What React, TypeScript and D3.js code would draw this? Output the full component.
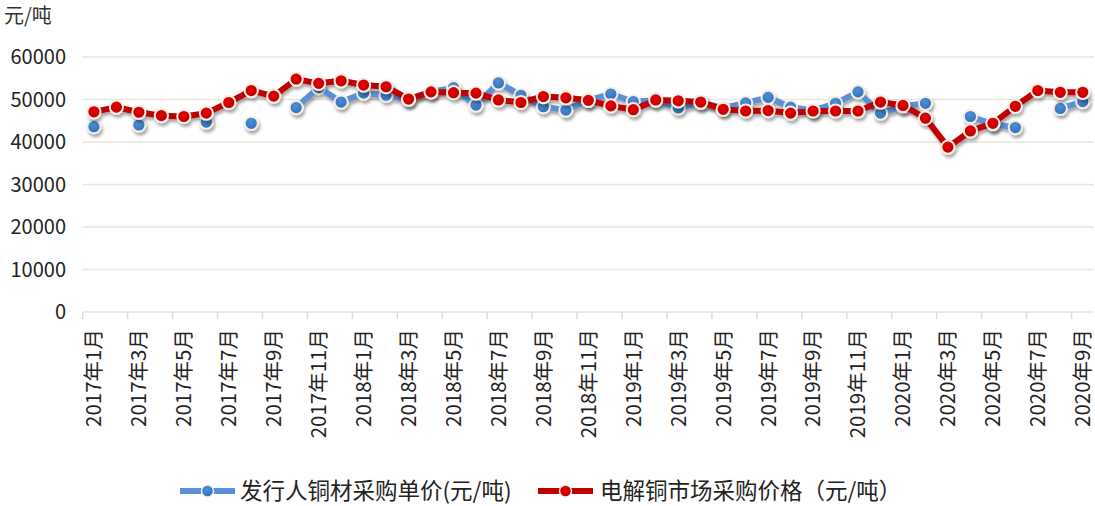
import React, { useEffect, useRef } from "react"
import * as d3 from "d3"

// month categories, 2017-01 .. 2020-09
const months = [
  "2017年1月", "2017年2月", "2017年3月", "2017年4月", "2017年5月", "2017年6月",
  "2017年7月", "2017年8月", "2017年9月", "2017年10月", "2017年11月", "2017年12月",
  "2018年1月", "2018年2月", "2018年3月", "2018年4月", "2018年5月", "2018年6月",
  "2018年7月", "2018年8月", "2018年9月", "2018年10月", "2018年11月", "2018年12月",
  "2019年1月", "2019年2月", "2019年3月", "2019年4月", "2019年5月", "2019年6月",
  "2019年7月", "2019年8月", "2019年9月", "2019年10月", "2019年11月", "2019年12月",
  "2020年1月", "2020年2月", "2020年3月", "2020年4月", "2020年5月", "2020年6月",
  "2020年7月", "2020年8月", "2020年9月",
]

// 发行人铜材采购单价 (gaps where no purchase)
const issuerPrice: (number | null)[] = [
  43600, null, 44000, null, null, 44700, null, 44400, null, 48100, 52800, 49400,
  51500, 51000, 50000, 51800, 52800, 48700, 53900, 51000, 48300, 47500, 49800, 51300,
  49500, 49800, 48000, 49300, 48000, 49200, 50500, 48200, 47400, 49100, 51800, 46800,
  48400, 49100, null, 46000, 44200, 43400, null, 47900, 49500,
]

// 电解铜市场采购价格
const marketPrice: number[] = [
  47100, 48200, 47000, 46200, 46000, 46800, 49300, 52100, 50800, 54800, 53800, 54400,
  53400, 53000, 50100, 51800, 51600, 51500, 49900, 49300, 50700, 50400, 49800, 48500,
  47600, 49900, 49700, 49400, 47700, 47300, 47400, 46800, 47300, 47300, 47300, 49400,
  48600, 45600, 38800, 42600, 44400, 48400, 52100, 51700, 51700,
]

const yTicks = [0, 10000, 20000, 30000, 40000, 50000, 60000]
const seriesNames = ["发行人铜材采购单价(元/吨)", "电解铜市场采购价格（元/吨）"]
const unitLabel = "元/吨"

const FONT = "'Noto Sans CJK SC', 'Noto Sans', sans-serif"

const App: React.FC = () => {
  const svgRef = useRef<SVGSVGElement | null>(null)

  useEffect(() => {
    document.body.style.margin = "0"
    if (!svgRef.current) return
    const svg = d3.select(svgRef.current)
    svg.selectAll("*").remove()

    const width = 1095
    const height = 506
    const plot = { left: 82.7, right: 1094, top: 57, bottom: 312 }

    const x = d3.scaleBand<string>().domain(months).range([plot.left, plot.right]).paddingInner(0).paddingOuter(0)
    const y = d3.scaleLinear().domain([0, 60000]).range([plot.bottom, plot.top])
    const cx = (i: number) => (x(months[i]) ?? 0) + x.bandwidth() / 2

    // shadow filter + marker gradients
    const defs = svg.append("defs")
    const f = defs.append("filter").attr("id", "shadow").attr("x", "-20%").attr("y", "-20%").attr("width", "140%").attr("height", "160%")
    f.append("feDropShadow").attr("dx", 1.5).attr("dy", 3).attr("stdDeviation", 1.6).attr("flood-color", "#000").attr("flood-opacity", 0.35)

    const grad = (id: string, c1: string, c2: string) => {
      const g = defs.append("radialGradient").attr("id", id).attr("cx", "45%").attr("cy", "35%").attr("r", "65%")
      g.append("stop").attr("offset", "0%").attr("stop-color", c1)
      g.append("stop").attr("offset", "100%").attr("stop-color", c2)
    }
    grad("gBlue", "#4f8fd8", "#2f6db8")
    grad("gRed", "#e80000", "#b80000")

    // unit label
    svg.append("text")
      .attr("x", 4)
      .attr("y", 23)
      .attr("font-family", FONT)
      .attr("font-size", 20)
      .attr("fill", "#333")
      .text(unitLabel)

    // grid lines
    svg.append("g")
      .selectAll("line")
      .data(yTicks)
      .enter()
      .append("line")
      .attr("x1", plot.left)
      .attr("x2", plot.right)
      .attr("y1", (d) => y(d))
      .attr("y2", (d) => y(d))
      .attr("stroke", "#e9e5da")
      .attr("stroke-width", 1.5)

    // y tick labels
    svg.append("g")
      .selectAll("text")
      .data(yTicks)
      .enter()
      .append("text")
      .attr("x", 66)
      .attr("y", (d) => y(d))
      .attr("dy", "0.36em")
      .attr("text-anchor", "end")
      .attr("font-family", FONT)
      .attr("font-size", 20)
      .attr("fill", "#222")
      .text((d) => String(d))

    // x tick marks every 2 months
    const tickIdx = months.map((_, i) => i).filter((i) => i % 2 === 0)
    svg.append("g")
      .selectAll("line")
      .data(tickIdx)
      .enter()
      .append("line")
      .attr("x1", (i) => x(months[i]) ?? 0)
      .attr("x2", (i) => x(months[i]) ?? 0)
      .attr("y1", plot.bottom)
      .attr("y2", plot.bottom + 7)
      .attr("stroke", "#e2ddd0")
      .attr("stroke-width", 1.5)

    // x tick labels (rotated)
    svg.append("g")
      .selectAll("text")
      .data(tickIdx)
      .enter()
      .append("text")
      .attr("transform", (i) => `translate(${cx(i)}, 329) rotate(-90)`)
      .attr("dy", "0.36em")
      .attr("text-anchor", "end")
      .attr("font-family", FONT)
      .attr("font-size", 20.5)
      .attr("fill", "#222")
      .text((i) => months[i])

    const drawSeries = (values: (number | null)[], lineColor: string, fill: string) => {
      const g = svg.append("g").attr("filter", "url(#shadow)")
      const line = d3
        .line<number | null>()
        .defined((d) => d != null)
        .x((_, i) => cx(i))
        .y((d) => y(d as number))
      g.append("path")
        .datum(values)
        .attr("fill", "none")
        .attr("stroke", lineColor)
        .attr("stroke-width", 6)
        .attr("stroke-linejoin", "round")
        .attr("d", line)
      g.selectAll("circle")
        .data(values.map((v, i) => ({ v, i })).filter((d) => d.v != null))
        .enter()
        .append("circle")
        .attr("cx", (d) => cx(d.i))
        .attr("cy", (d) => y(d.v as number))
        .attr("r", 6.6)
        .attr("fill", fill)
        .attr("stroke", "#f3efe6")
        .attr("stroke-width", 2)
    }

    drawSeries(issuerPrice, "#5b8fd6", "url(#gBlue)")
    drawSeries(marketPrice, "#c00000", "url(#gRed)")

    // legend
    const legendItems = [
      { name: seriesNames[0], line: "#5b8fd6", fill: "url(#gBlue)", x0: 180, tx: 240 },
      { name: seriesNames[1], line: "#c00000", fill: "url(#gRed)", x0: 538, tx: 600 },
    ]
    const ly = 491
    legendItems.forEach((it) => {
      const lg = svg.append("g")
      lg.append("line")
        .attr("x1", it.x0)
        .attr("x2", it.x0 + 55)
        .attr("y1", ly)
        .attr("y2", ly)
        .attr("stroke", it.line)
        .attr("stroke-width", 6)
      lg.append("circle")
        .attr("cx", it.x0 + 27.5)
        .attr("cy", ly)
        .attr("r", 6)
        .attr("fill", it.fill)
        .attr("stroke", "#f3efe6")
        .attr("stroke-width", 1.5)
      lg.append("text")
        .attr("x", it.tx)
        .attr("y", ly)
        .attr("dy", "0.36em")
        .attr("font-family", FONT)
        .attr("font-size", 22.5)
        .attr("fill", "#222")
        .text(it.name)
    })

    svg.attr("width", width).attr("height", height)
  }, [])

  return <svg ref={svgRef} width={1095} height={506} style={{ display: "block", background: "#fff" }} />
}

export default App
